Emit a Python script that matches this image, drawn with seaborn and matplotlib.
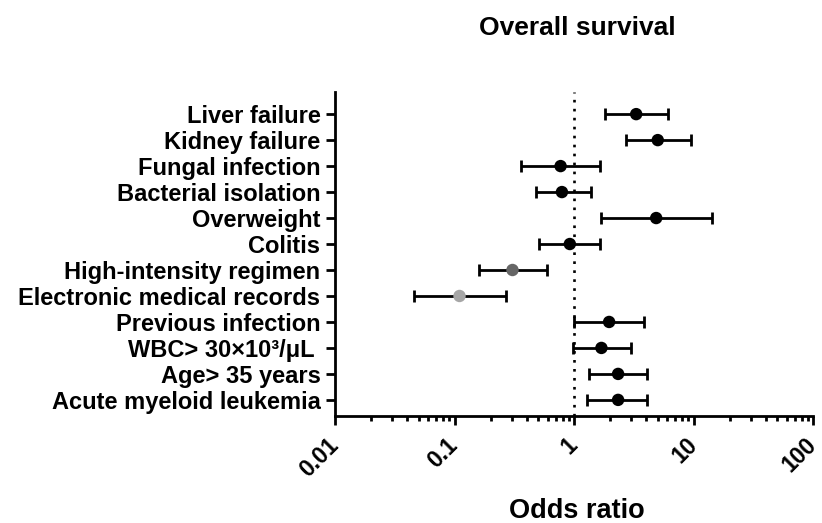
import matplotlib
matplotlib.use("Agg")
import matplotlib.pyplot as plt
import seaborn as sns
import numpy as np
import pandas as pd
from matplotlib.ticker import LogLocator, NullFormatter, FixedLocator, FixedFormatter

factors = ["Liver failure", "Kidney failure", "Fungal infection", "Bacterial isolation",
           "Overweight", "Colitis", "High-intensity regimen", "Electronic medical records",
           "Previous infection", "WBC> 30×10³/μL ", "Age> 35 years", "Acute myeloid leukemia"]
odds = [3.3, 5.0, 0.77, 0.79, 4.85, 0.92, 0.305, 0.11, 1.96, 1.69, 2.33, 2.33]
ci_low = [1.80, 2.69, 0.358, 0.479, 1.69, 0.51, 0.161, 0.0457, 1.0, 0.97, 1.33, 1.29]
ci_high = [6.09, 9.44, 1.65, 1.37, 14.1, 1.64, 0.591, 0.267, 3.87, 3.0, 4.07, 4.07]
point_colors = ["#000000"] * 6 + ["#666666", "#a6a6a6"] + ["#000000"] * 4

x_ticks = [0.01, 0.1, 1, 10, 100]
x_ticklabels = ["0.01", "0.1", "1", "10", "100"]

sns.set_style("white")
plt.rcParams["font.family"] = ["Liberation Sans", "DejaVu Sans"]
plt.rcParams["font.weight"] = "bold"
plt.rcParams["text.color"] = "black"
plt.rcParams["xtick.color"] = "black"
plt.rcParams["ytick.color"] = "black"

df = pd.DataFrame({"factor": factors, "odds": odds, "lo": ci_low, "hi": ci_high})

fig = plt.figure(figsize=(8.22, 5.23), dpi=100)
ax = fig.add_axes([0.4075, 0.2046, 0.582, 0.6194])

ypos = np.arange(len(factors))
err = [np.array(odds) - np.array(ci_low), np.array(ci_high) - np.array(odds)]
ax.errorbar(odds, ypos, xerr=err, fmt="none", ecolor="black", elinewidth=2.0,
            capsize=4.6, capthick=2.0, zorder=2)
sns.scatterplot(data=df, x="odds", y="factor", hue="factor", palette=point_colors,
                s=80, edgecolor="none", legend=False, ax=ax, zorder=3)

ax.axvline(1, color="black", lw=1.9, linestyle=(0, (1, 2.4)), zorder=1)

ax.set_xscale("log")
ax.set_xlim(0.01, 100)
ax.set_ylim(len(factors) - 1 + 0.62, -0.85)

ax.xaxis.set_major_locator(FixedLocator(x_ticks))
ax.xaxis.set_major_formatter(FixedFormatter(x_ticklabels))
ax.xaxis.set_minor_locator(LogLocator(base=10, subs=np.arange(2, 10)))
ax.xaxis.set_minor_formatter(NullFormatter())

ax.set_yticks(ypos)
ax.set_yticklabels(factors, fontsize=17, fontweight="bold", color="black")
for lab in ax.get_xticklabels():
    lab.set_rotation(45)
    lab.set_ha("right")
    lab.set_va("center")
    lab.set_rotation_mode("anchor")
    lab.set_fontsize(16.5)
    lab.set_fontweight("bold")
    lab.set_color("black")

ax.tick_params(axis="both", which="major", direction="out", length=6.5, width=2.0,
               color="black", bottom=True, left=True)
ax.tick_params(axis="x", which="minor", direction="out", length=3.5, width=2.0,
               color="black", bottom=True)
ax.tick_params(axis="x", which="major", pad=12)
ax.tick_params(axis="y", which="major", pad=4)

for side in ["top", "right"]:
    ax.spines[side].set_visible(False)
for side in ["left", "bottom"]:
    ax.spines[side].set_linewidth(2.0)
    ax.spines[side].set_color("black")

ax.set_xlabel("")
ax.set_ylabel("")
fig.text(0.702, 0.023, "Odds ratio", ha="center", va="center", fontsize=19.5, fontweight="bold")
fig.text(0.702, 0.947, "Overall survival", ha="center", va="center", fontsize=19, fontweight="bold")

fig.savefig("out.png", dpi=100)
